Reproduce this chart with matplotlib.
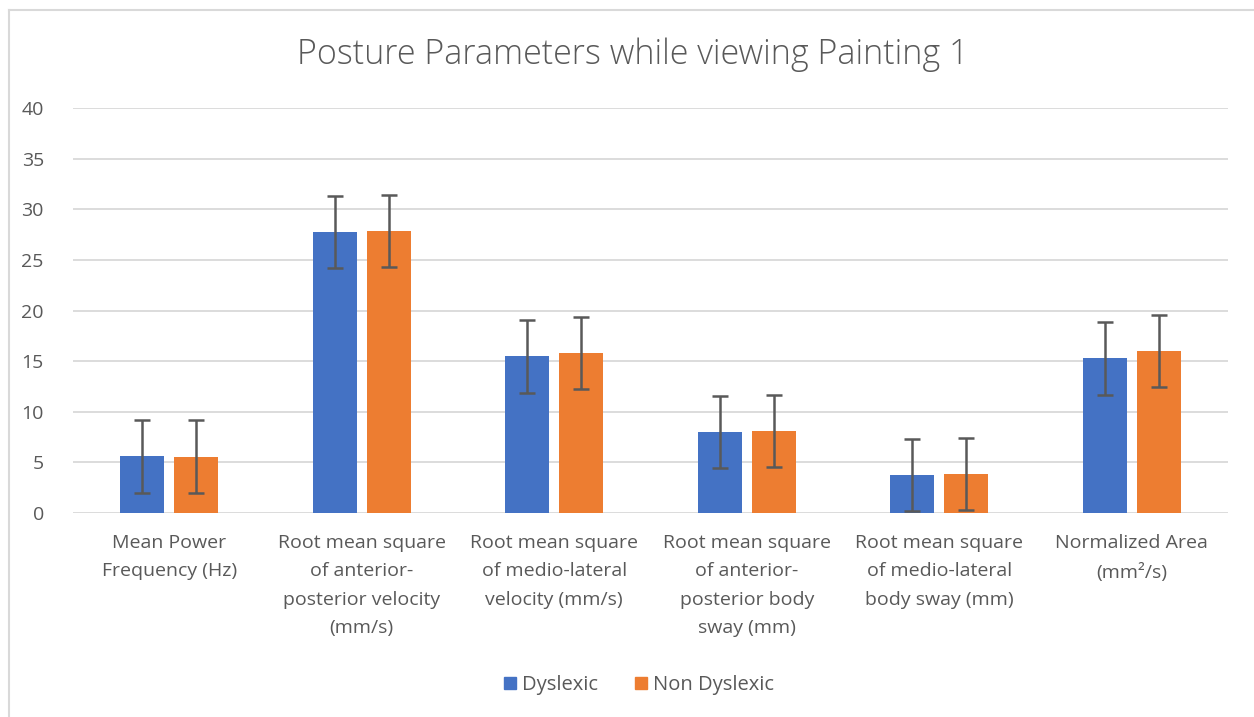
import matplotlib
matplotlib.use("Agg")
import matplotlib.pyplot as plt
from matplotlib.lines import Line2D
import numpy as np

plt.rcParams["font.family"] = ["Open Sans", "DejaVu Sans"]

CATEGORIES = [
    "Mean Power\nFrequency (Hz)",
    "Root mean square\nof anterior-\nposterior velocity\n(mm/s)",
    "Root mean square\nof medio-lateral\nvelocity (mm/s)",
    "Root mean square\nof anterior-\nposterior body\nsway (mm)",
    "Root mean square\nof medio-lateral\nbody sway (mm)",
    "Normalized Area\n(mm²/s)",
]
DYSLEXIC = [5.6, 27.75, 15.5, 8.0, 3.75, 15.3]
NON_DYSLEXIC = [5.55, 27.85, 15.8, 8.1, 3.85, 16.0]
DYSLEXIC_ERR = [3.6, 3.6, 3.6, 3.6, 3.6, 3.6]
NON_DYSLEXIC_ERR = [3.6, 3.6, 3.6, 3.6, 3.6, 3.6]

BLUE = "#4472C4"
ORANGE = "#ED7D31"
TEXT = "#595959"
GRID = "#D9D9D9"

fig = plt.figure(figsize=(12.54, 7.17), dpi=100)
ax = fig.add_axes([73 / 1254, 1 - 513 / 717, (1228 - 73) / 1254, (513 - 108) / 717])

x = np.arange(len(CATEGORIES))
w = 0.228
off = 0.141
err_kw = dict(ecolor=TEXT, elinewidth=1.8, capsize=6, capthick=1.8)
ax.bar(x - off, DYSLEXIC, w, yerr=DYSLEXIC_ERR, color=BLUE, label="Dyslexic", error_kw=err_kw, zorder=2)
ax.bar(x + off, NON_DYSLEXIC, w, yerr=NON_DYSLEXIC_ERR, color=ORANGE, label="Non Dyslexic", error_kw=err_kw, zorder=2)

ax.set_xlim(-0.5, len(CATEGORIES) - 0.5)
ax.set_ylim(0, 40)
ax.set_yticks(range(0, 41, 5))
ax.yaxis.grid(True, color=GRID, linewidth=1.3, zorder=0)
ax.set_axisbelow(True)
for s in ax.spines.values():
    s.set_visible(False)
ax.tick_params(axis="both", length=0, colors=TEXT, labelsize=14)
ax.tick_params(axis="y", pad=21)
ax.tick_params(axis="x", pad=15)
ax.set_xticks(x)
ax.set_xticklabels(CATEGORIES, linespacing=1.75, va="top")

fig.text(633 / 1254, 1 - 55 / 717, "Posture Parameters while viewing Painting 1",
         ha="center", va="center", fontsize=24.5, color=TEXT, fontweight="light")

handles = [
    Line2D([], [], marker="s", linestyle="none", markersize=9, color=BLUE, label="Dyslexic"),
    Line2D([], [], marker="s", linestyle="none", markersize=9, color=ORANGE, label="Non Dyslexic"),
]
leg = fig.legend(handles=handles, loc="center", bbox_to_anchor=(637 / 1254, 1 - 685 / 717),
                 ncol=2, frameon=False, fontsize=14.5, handletextpad=0.1, columnspacing=1.6,
                 handlelength=1.0)
for t in leg.get_texts():
    t.set_color(TEXT)

# chart-area border (left and top)
fig.add_artist(Line2D([8.5 / 1254, 8.5 / 1254], [0, 1 - 9.5 / 717], transform=fig.transFigure,
                      color=GRID, linewidth=1.5))
fig.add_artist(Line2D([8.5 / 1254, 1], [1 - 9.5 / 717, 1 - 9.5 / 717], transform=fig.transFigure,
                      color=GRID, linewidth=1.5))

fig.savefig("out.png", dpi=100)
